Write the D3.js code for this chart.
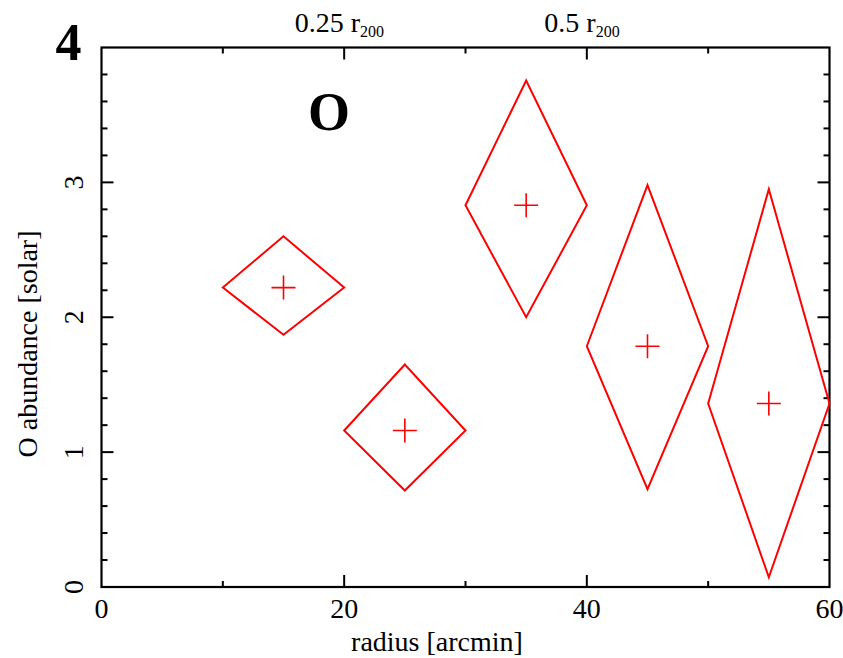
<!DOCTYPE html>
<html><head><meta charset="utf-8">
<script src="https://cdn.jsdelivr.net/npm/d3@7"></script>
<style>body{margin:0;background:#fff}</style>
</head><body><svg id="c" width="843" height="658" font-family="'Liberation Serif', 'Times New Roman', Times, 'DejaVu Serif', serif"></svg>
<script>
// data
const radius = [15, 25, 35, 45, 55];
const radiusErr = [5, 5, 5, 5, 5];
const abundance = [2.22, 1.16, 2.83, 1.785, 1.36];
const abundHi = [2.60, 1.65, 3.755, 2.98, 2.95];
const abundLo = [1.87, 0.715, 2.0, 0.725, 0.072];
const xTicks = [0, 20, 40, 60];
const yTicks = [0, 1, 2, 3];
const topLabels = [{x: 19.6, t: "0.25 r", s: "200"}, {x: 39.6, t: "0.5 r", s: "200"}];

const svg = d3.select("#c");
const L = 101.5, R = 829.5, T = 47.5, B = 587;
const x = d3.scaleLinear().domain([0, 60]).range([L, R]);
const y = d3.scaleLinear().domain([0, 4]).range([B, T]);
const red = "#ff0000";
const FF = "'Liberation Serif', 'Times New Roman', Times, serif";

svg.append("rect").attr("x", L).attr("y", T).attr("width", R - L).attr("height", B - T)
  .attr("fill", "none").attr("stroke", "#000").attr("stroke-width", 2.2);

const g = svg.append("g");
d3.range(0, 61, 10).forEach(v => {
  const len = (v % 20 === 0) ? 12 : 6;
  if (v === 0 || v === 60) return;
  g.append("line").attr("x1", x(v)).attr("x2", x(v)).attr("y1", B).attr("y2", B - len).attr("stroke", "#000").attr("stroke-width", 2);
  g.append("line").attr("x1", x(v)).attr("x2", x(v)).attr("y1", T).attr("y2", T + len).attr("stroke", "#000").attr("stroke-width", 2);
});
d3.range(1, 20).map(i => i * 0.2).forEach(v => {
  const major = Math.abs(v - Math.round(v)) < 1e-6;
  const len = major ? 12 : 6;
  g.append("line").attr("x1", L).attr("x2", L + len).attr("y1", y(v)).attr("y2", y(v)).attr("stroke", "#000").attr("stroke-width", 2);
  g.append("line").attr("x1", R).attr("x2", R - len).attr("y1", y(v)).attr("y2", y(v)).attr("stroke", "#000").attr("stroke-width", 2);
});

const txt = (sel) => sel.attr("font-family", FF).attr("fill", "#000");

xTicks.forEach(v => {
  txt(svg.append("text")).attr("x", x(v)).attr("y", 618).attr("text-anchor", "middle")
    .attr("font-size", 28).text(v);
});
yTicks.forEach(v => {
  txt(svg.append("text")).attr("transform", `translate(83,${y(v)}) rotate(-90)`).attr("text-anchor", "middle")
    .attr("font-size", 28).text(v);
});
txt(svg.append("text")).attr("x", 437).attr("y", 651).attr("text-anchor", "middle").attr("font-size", 28).text("radius [arcmin]");
txt(svg.append("text")).attr("transform", `translate(37,344) rotate(-90)`).attr("text-anchor", "middle").attr("font-size", 28).text("O abundance [solar]");

topLabels.forEach(d => {
  const t = txt(svg.append("text")).attr("x", x(d.x)).attr("y", 32).attr("text-anchor", "middle").attr("font-size", 28);
  t.append("tspan").text(d.t);
  t.append("tspan").attr("dy", 5).attr("font-size", 16).text(d.s);
});

txt(svg.append("text")).attr("x", 68.5).attr("y", 60).attr("text-anchor", "middle").attr("font-size", 52).attr("font-weight", "bold").text("4");
txt(svg.append("text")).attr("x", 329).attr("y", 130).attr("text-anchor", "middle").attr("font-size", 54).attr("font-weight", "bold").text("O");

const pts = radius.map((r, i) => ({r, e: radiusErr[i], v: abundance[i], hi: abundHi[i], lo: abundLo[i]}));
const dg = svg.append("g");
dg.selectAll("path.d").data(pts).join("path")
  .attr("d", d => `M${x(d.r - d.e)},${y(d.v)}L${x(d.r)},${y(d.hi)}L${x(d.r + d.e)},${y(d.v)}L${x(d.r)},${y(d.lo)}Z`)
  .attr("fill", "none").attr("stroke", red).attr("stroke-width", 2);
dg.selectAll("path.p").data(pts).join("path")
  .attr("d", d => `M${x(d.r) - 12},${y(d.v)}H${x(d.r) + 12}M${x(d.r)},${y(d.v) - 12}V${y(d.v) + 12}`)
  .attr("fill", "none").attr("stroke", red).attr("stroke-width", 1.6);
</script></body></html>
